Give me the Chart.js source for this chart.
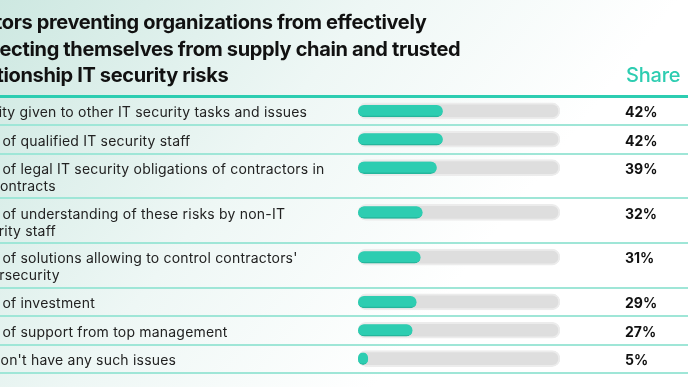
<!DOCTYPE html>
<html>
<head>
<meta charset="utf-8">
<script src="https://cdn.jsdelivr.net/npm/chart.js@4"></script>
<style>
  html, body { margin: 0; padding: 0; background: #fff; overflow: hidden; }
  #wrap { position: absolute; left: -60px; top: 0; width: 748px; height: 387px; }
</style>
</head>
<body>
<div id="wrap"><canvas id="myChart" width="748" height="387"></canvas></div>
<script>
// chart text and values
const titleLines = [
  "Factors preventing organizations from effectively",
  "protecting themselves from supply chain and trusted",
  "relationship IT security risks",
];
const valueHeader = "Share";
const labelLines = [
  ["Priority given to other IT security tasks and issues"],
  ["Lack of qualified IT security staff"],
  ["Lack of legal IT security obligations of contractors in", "the contracts"],
  ["Lack of understanding of these risks by non-IT", "security staff"],
  ["Lack of solutions allowing to control contractors'", "cybersecurity"],
  ["Lack of investment"],
  ["Lack of support from top management"],
  ["We don't have any such issues"],
];
const shares = [42, 42, 39, 32, 31, 29, 27, 5];

const OFF = 60; // page is cropped on the left
const TEAL = "#2dcdb1";

// row layout: taller rows for two-line labels
const LINE_H = 16.5;
const rowTops = [];
let acc = 0;
labelLines.forEach((lines) => {
  rowTops.push(acc);
  acc += 12 + LINE_H * lines.length;
});
const tableHeight = acc;
const barPos = rowTops.map((t) => t + 14);

const decor = {
  id: "decor",
  beforeDraw(chart) {
    const { ctx, width, height } = chart;
    ctx.save();
    const g = ctx.createLinearGradient(OFF, 0, OFF + 420, 330);
    g.addColorStop(0, "#cde8e1");
    g.addColorStop(0.55, "#eef7f5");
    g.addColorStop(1, "#ffffff");
    ctx.fillStyle = g;
    ctx.fillRect(0, 0, width, height);

    // title
    ctx.fillStyle = "#111";
    ctx.font = "bold 20px Inter";
    ctx.letterSpacing = "-0.35px";
    ctx.textBaseline = "alphabetic";
    const tx = OFF + 2 - ctx.measureText("Fact").width;
    titleLines.forEach((t, i) => ctx.fillText(t, tx, 29 + i * 26.5));

    ctx.fillStyle = TEAL;
    ctx.font = "500 20px Inter";
    ctx.letterSpacing = "-0.2px";
    ctx.fillText(valueHeader, OFF + 626, 82);

    // separators
    const y = chart.scales.y;
    ctx.fillStyle = TEAL;
    ctx.fillRect(0, 95, width, 3);
    ctx.fillStyle = "#9fe6d7";
    rowTops.slice(1).concat([tableHeight]).forEach((t) => {
      ctx.fillRect(0, Math.round(y.getPixelForValue(t)) - 1, width, 2);
    });

    // row labels and values
    ctx.textBaseline = "middle";
    labelLines.forEach((lines, i) => {
      const top = y.getPixelForValue(rowTops[i]);
      ctx.fillStyle = "#222";
      ctx.font = "14px Inter";
      ctx.letterSpacing = "0.2px";
      lines.forEach((l, j) => ctx.fillText(l, OFF - 34, top + 16 + j * 17));
      ctx.fillStyle = "#111";
      ctx.font = "bold 14px Inter";
      ctx.letterSpacing = "0px";
      ctx.fillText(shares[i] + "%", OFF + 625, top + 16);
    });
    ctx.restore();
  },
};

const config = {
  type: "bar",
  data: {
    datasets: [
      {
        data: shares.map((v, i) => ({ x: v, y: barPos[i] })),
        backgroundColor: TEAL,
        borderColor: "#25b69c",
        borderWidth: { bottom: 1.5, top: 0, left: 0, right: 0 },
        borderRadius: 6,
        borderSkipped: false,
        barThickness: 12,
        grouped: false,
        order: 0,
      },
      {
        data: shares.map((v, i) => ({ x: 100, y: barPos[i] })),
        backgroundColor: "#dedede",
        borderColor: "#ececec",
        borderWidth: 2,
        borderRadius: 8,
        borderSkipped: false,
        barThickness: 16,
        grouped: false,
        order: 1,
      },
    ],
  },
  options: {
    indexAxis: "y",
    responsive: false,
    animation: false,
    layout: { padding: { left: OFF + 358, right: 748 - (OFF + 560), top: 97, bottom: 14 } },
    scales: {
      x: { type: "linear", min: 0, max: 100, offset: false, display: false },
      y: { type: "linear", min: 0, max: tableHeight, reverse: true, offset: false, display: false },
    },
    plugins: {
      legend: { display: false },
      tooltip: { enabled: false },
      title: { display: false },
    },
  },
  plugins: [decor],
};

new Chart(document.getElementById("myChart"), config);
</script>
</body>
</html>
